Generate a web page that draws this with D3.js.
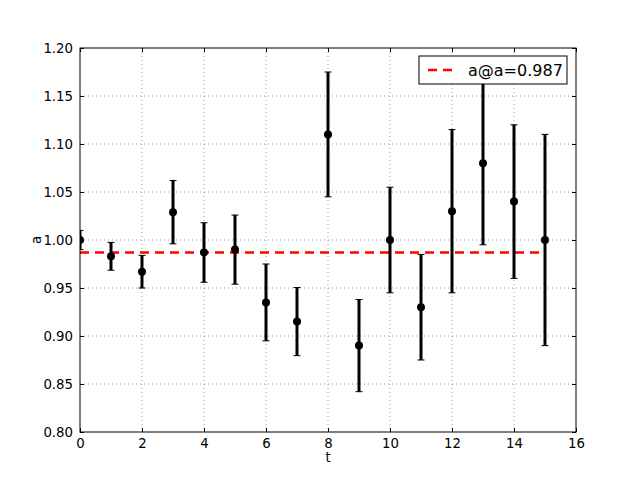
<!DOCTYPE html>
<html><head><meta charset="utf-8">
<script src="https://cdn.jsdelivr.net/npm/d3@7"></script>
<style>body{margin:0;background:#fff}text{font-family:"DejaVu Sans",sans-serif}</style>
</head><body><svg id="c" width="640" height="480"></svg>
<script>
const tValues = [0,1,2,3,4,5,6,7,8,9,10,11,12,13,14,15];
const aValues = [1.000,0.983,0.967,1.029,0.987,0.990,0.935,0.915,1.110,0.890,1.000,0.930,1.030,1.080,1.040,1.000];
const aErrors = [0.010,0.0145,0.017,0.033,0.031,0.036,0.040,0.0355,0.065,0.048,0.055,0.055,0.085,0.085,0.080,0.110];
const meanA = 0.987;
const legendLabel = "a@a=0.987";
const xTicks = [0,2,4,6,8,10,12,14,16];
const yTicks = [0.80,0.85,0.90,0.95,1.00,1.05,1.10,1.15,1.20];

const svg = d3.select("#c");
const L=80,R=576,T=48,B=432;
const x = d3.scaleLinear().domain([0,16]).range([L,R]);
const y = d3.scaleLinear().domain([0.80,1.20]).range([B,T]);

svg.append("defs").append("clipPath").attr("id","clip")
 .append("rect").attr("x",L).attr("y",T).attr("width",R-L).attr("height",B-T);

// grid
const g = svg.append("g");
g.selectAll(".gx").data(xTicks.slice(1,-1)).enter().append("line")
 .attr("x1",d=>x(d)).attr("x2",d=>x(d)).attr("y1",T).attr("y2",B)
 .attr("stroke","#000").attr("stroke-width",0.5).attr("stroke-dasharray","1,3").attr("opacity",0.8);
g.selectAll(".gy").data(yTicks.slice(1,-1)).enter().append("line")
 .attr("y1",d=>y(d)).attr("y2",d=>y(d)).attr("x1",L).attr("x2",R)
 .attr("stroke","#000").attr("stroke-width",0.5).attr("stroke-dasharray","1,3").attr("opacity",0.8);

const plot = svg.append("g").attr("clip-path","url(#clip)");
// mean line
plot.append("line").attr("x1",x(tValues[0])).attr("x2",x(tValues[tValues.length-1]))
 .attr("y1",y(meanA)).attr("y2",y(meanA))
 .attr("stroke","#ff0000").attr("stroke-width",2.5).attr("stroke-dasharray","9,6");

// error bars
tValues.forEach((t,i)=>{
  const v=aValues[i], e=aErrors[i];
  plot.append("line").attr("x1",x(t)).attr("x2",x(t)).attr("y1",y(v-e)).attr("y2",y(v+e))
    .attr("stroke","#000").attr("stroke-width",3);
  [v-e,v+e].forEach(c=>{
    plot.append("line").attr("x1",x(t)-3.5).attr("x2",x(t)+3.5).attr("y1",y(c)).attr("y2",y(c))
      .attr("stroke","#000").attr("stroke-width",1);
  });
  plot.append("circle").attr("cx",x(t)).attr("cy",y(v)).attr("r",4).attr("fill","#000");
});

// axes frame with inward ticks
const axB = d3.axisBottom(x).tickValues(xTicks).tickFormat(d3.format("d")).tickSizeInner(-4).tickSizeOuter(0).tickPadding(7);
const axT = d3.axisTop(x).tickValues(xTicks).tickFormat("").tickSizeInner(-4).tickSizeOuter(0);
const axLf = d3.axisLeft(y).tickValues(yTicks).tickFormat(d3.format(".2f")).tickSizeInner(-4).tickSizeOuter(0).tickPadding(7);
const axRt = d3.axisRight(y).tickValues(yTicks).tickFormat("").tickSizeInner(-4).tickSizeOuter(0);
function style(sel){sel.selectAll("text").attr("font-size","13.3px").attr("fill","#000").style("font-family","DejaVu Sans");
  sel.selectAll("line").attr("stroke","#000"); sel.select(".domain").remove();}
svg.append("g").attr("transform",`translate(0,${B})`).call(axB).call(style);
svg.append("g").attr("transform",`translate(0,${T})`).call(axT).call(style);
svg.append("g").attr("transform",`translate(${L},0)`).call(axLf).call(style);
svg.append("g").attr("transform",`translate(${R},0)`).call(axRt).call(style);
svg.append("rect").attr("x",L).attr("y",T).attr("width",R-L).attr("height",B-T)
 .attr("fill","none").attr("stroke","#000").attr("stroke-width",1);

// axis labels
svg.append("text").attr("x",(L+R)/2).attr("y",462).attr("text-anchor","middle").attr("font-size","13.3px").text("t");
svg.append("text").attr("transform",`translate(41,${(T+B)/2}) rotate(-90)`).attr("text-anchor","middle").attr("font-size","13.3px").text("a");

// legend
const lg = svg.append("g");
lg.append("rect").attr("x",419).attr("y",56).attr("width",148).attr("height",28)
 .attr("fill","#fff").attr("stroke","#000").attr("stroke-width",1);
lg.append("line").attr("x1",428).attr("x2",453).attr("y1",70).attr("y2",70)
 .attr("stroke","#ff0000").attr("stroke-width",2.5).attr("stroke-dasharray","9,6");
lg.append("text").attr("x",468).attr("y",76).attr("font-size","16px").text(legendLabel);
</script></body></html>
